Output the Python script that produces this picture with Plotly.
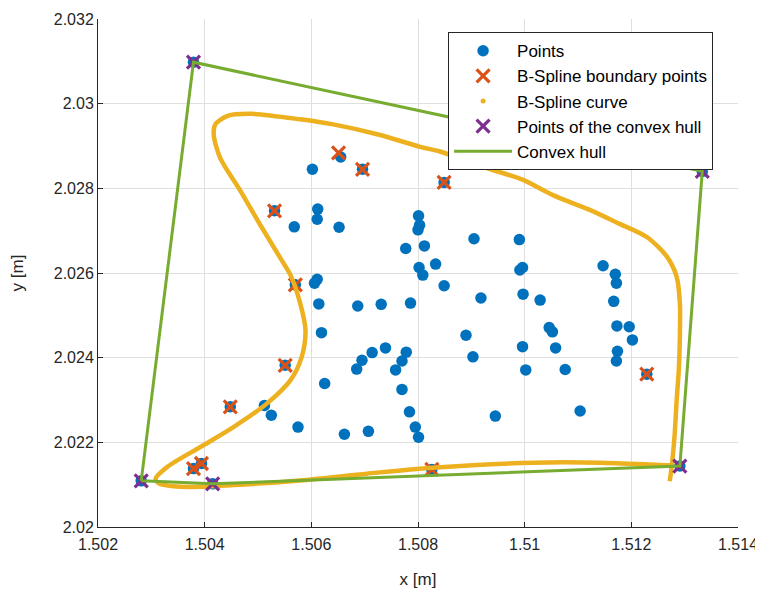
import plotly.graph_objects as go

# ---- data ----
pts_x = [1.50602, 1.50655, 1.50696, 1.50849, 1.50531, 1.50612, 1.50611, 1.50568, 1.50652,
         1.50801, 1.50803, 1.50800, 1.50777, 1.50812, 1.50802, 1.50809, 1.50833, 1.50849,
         1.50611, 1.50606, 1.50570, 1.50905, 1.50990, 1.50996, 1.50991, 1.51147, 1.51170,
         1.51172, 1.50614, 1.50687, 1.50731, 1.50786, 1.50619, 1.50739, 1.50714, 1.50778,
         1.50695, 1.50770, 1.50685, 1.50758, 1.50551, 1.50625, 1.50770, 1.50512, 1.50525,
         1.50784, 1.50575, 1.50795, 1.50801, 1.50707, 1.50662, 1.50918, 1.50997, 1.51029,
         1.51167, 1.50890, 1.51046, 1.51052, 1.50996, 1.51058, 1.51173, 1.51196, 1.51202,
         1.51174, 1.51172, 1.50903, 1.51002, 1.51076, 1.50945, 1.51104, 1.51229, 1.50448,
         1.50379, 1.50394, 1.50826, 1.50379, 1.51333, 1.51291, 1.50415, 1.50281]
pts_y = [2.02845, 2.02874, 2.02845, 2.02814, 2.02747, 2.02751, 2.02727, 2.02709, 2.02708,
         2.02735, 2.02713, 2.02702, 2.02658, 2.02664, 2.02613, 2.02595, 2.02621, 2.02570,
         2.02585, 2.02576, 2.02572, 2.02681, 2.02679, 2.02613, 2.02607, 2.02617, 2.02597,
         2.02576, 2.02527, 2.02522, 2.02526, 2.02529, 2.02459, 2.02423, 2.02412, 2.02413,
         2.02394, 2.02392, 2.02373, 2.02371, 2.02382, 2.02339, 2.02325, 2.02287, 2.02264,
         2.02272, 2.02236, 2.02236, 2.02212, 2.02226, 2.02219, 2.02541, 2.02550, 2.02536,
         2.02533, 2.02453, 2.02471, 2.02461, 2.02426, 2.02423, 2.02475, 2.02473, 2.02442,
         2.02415, 2.02392, 2.02402, 2.02371, 2.02372, 2.02262, 2.02274, 2.02361, 2.02284,
         2.02138, 2.02150, 2.02136, 2.03098, 2.02840, 2.02144, 2.02102, 2.02109]

bnd_x = [1.50651, 1.50696, 1.50849, 1.50531, 1.50570, 1.50551, 1.50448, 1.50379, 1.50394,
         1.50826, 1.51229]
bnd_y = [2.02884, 2.02845, 2.02814, 2.02747, 2.02572, 2.02382, 2.02284, 2.02138, 2.02150,
         2.02136, 2.02361]

curve_x = [1.51272, 1.51276, 1.51281, 1.51285, 1.51289, 1.51291, 1.51291, 1.51285, 1.51267,
           1.51229, 1.51178, 1.51122, 1.51053, 1.50997, 1.50929, 1.50841, 1.50804, 1.50729,
           1.50641, 1.50579, 1.50486, 1.50443, 1.50420, 1.50417, 1.50429, 1.50467, 1.50504,
           1.50542, 1.50561, 1.50579, 1.50589, 1.50582, 1.50561, 1.50517, 1.50454, 1.50392,
           1.50330, 1.50308, 1.50314, 1.50342, 1.50392, 1.50454, 1.50579, 1.50704, 1.50826,
           1.51016, 1.51141, 1.51266, 1.51278]
curve_y = [2.02108, 2.02146, 2.02214, 2.02300, 2.02371, 2.02449, 2.02529, 2.02591, 2.02638,
           2.02685, 2.02716, 2.02749, 2.02784, 2.02820, 2.02848, 2.02887, 2.02898, 2.02926,
           2.02951, 2.02963, 2.02976, 2.02971, 2.02951, 2.02927, 2.02872, 2.02794, 2.02714,
           2.02635, 2.02595, 2.02529, 2.02465, 2.02402, 2.02347, 2.02292, 2.02236, 2.02189,
           2.02142, 2.02114, 2.02103, 2.02096, 2.02095, 2.02099, 2.02110, 2.02126, 2.02140,
           2.02152, 2.02152, 2.02146, 2.02146]

hull_x = [1.50281, 1.50379, 1.51333, 1.51291, 1.50415, 1.50281]
hull_y = [2.02109, 2.03098, 2.02840, 2.02144, 2.02102, 2.02109]

x_ticks = [1.502, 1.504, 1.506, 1.508, 1.510, 1.512, 1.514]
x_tick_labels = ["1.502", "1.504", "1.506", "1.508", "1.51", "1.512", "1.514"]
y_ticks = [2.020, 2.022, 2.024, 2.026, 2.028, 2.030, 2.032]
y_tick_labels = ["2.02", "2.022", "2.024", "2.026", "2.028", "2.03", "2.032"]

BLUE = "#0072BD"
ORANGE = "#D95319"
YELLOW = "#EDB120"
PURPLE = "#7E2F8E"
GREEN = "#77AC30"
DARK = "#262626"
FONT = "Liberation Sans, Arial, Helvetica, sans-serif"

fig = go.Figure()
fig.add_trace(go.Scatter(x=pts_x, y=pts_y, mode="markers", name="Points",
                         marker=dict(color=BLUE, size=11.5)))
fig.add_trace(go.Scatter(x=bnd_x, y=bnd_y, mode="markers", name="B-Spline boundary points",
                         marker=dict(symbol="x-thin", size=13, color=ORANGE,
                                     line=dict(color=ORANGE, width=3.2))))
fig.add_trace(go.Scatter(x=curve_x, y=curve_y, mode="lines", showlegend=False,
                         line=dict(color=YELLOW, width=4.5, shape="spline", smoothing=0.8)))
fig.add_trace(go.Scatter(x=[None], y=[None], mode="markers", name="B-Spline curve",
                         marker=dict(color=YELLOW, size=5)))
fig.add_trace(go.Scatter(x=hull_x[:-1], y=hull_y[:-1], mode="markers",
                         name="Points of the convex hull",
                         marker=dict(symbol="x-thin", size=13, color=PURPLE,
                                     line=dict(color=PURPLE, width=3.2))))
fig.add_trace(go.Scatter(x=hull_x, y=hull_y, mode="lines", name="Convex hull",
                         line=dict(color=GREEN, width=3)))

axis_common = dict(showgrid=True, gridcolor="#DFDFDF", gridwidth=1, zeroline=False,
                   showline=True, linecolor=DARK, linewidth=1, ticks="inside",
                   ticklen=5, tickcolor=DARK, tickwidth=1, mirror=False,
                   automargin=False,
                   tickfont=dict(size=16, color=DARK, family=FONT))

# the page body has an 8px margin, so the figure is sized/margined to compensate
fig.update_layout(
    width=755, height=581, autosize=False,
    margin=dict(l=90, r=25, t=11, b=62),
    paper_bgcolor="white", plot_bgcolor="white",
    font=dict(family=FONT, color=DARK, size=16),
    xaxis=dict(range=[1.502, 1.514], tickmode="array", tickvals=x_ticks,
               ticktext=x_tick_labels, ticklabelstandoff=3,
               title=dict(text="x [m]", font=dict(size=17, color=DARK), standoff=20),
               **axis_common),
    yaxis=dict(range=[2.020, 2.032], tickmode="array", tickvals=y_ticks,
               ticktext=y_tick_labels,
               title=dict(text="y [m]", font=dict(size=17, color=DARK), standoff=29),
               **axis_common),
    legend=dict(x=0.547, y=0.974, xanchor="left", yanchor="top",
                bgcolor="white", bordercolor=DARK, borderwidth=1,
                font=dict(size=17, color="black", family=FONT),
                itemwidth=58, tracegroupgap=0),
    showlegend=True,
)

fig.write_html("out.html")
